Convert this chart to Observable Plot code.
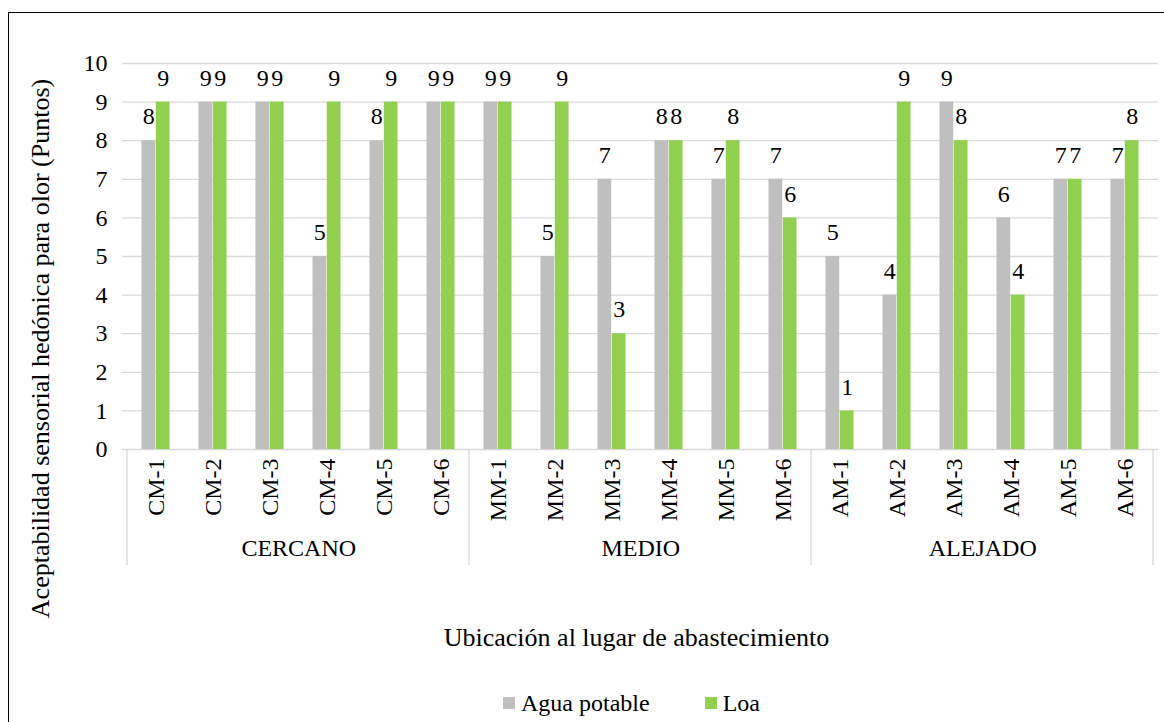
<!DOCTYPE html>
<html>
<head>
<meta charset="utf-8">
<script src="https://cdn.jsdelivr.net/npm/d3@7"></script>
<script src="https://cdn.jsdelivr.net/npm/@observablehq/plot@0.6"></script>
<style>
  html, body { margin: 0; padding: 0; background: #fff; }
  body { width: 1164px; height: 722px; position: relative; overflow: hidden; font-family: "Liberation Serif", "Times New Roman", serif; }
  #frame { position: absolute; left: 8px; top: 12px; width: 1170px; height: 730px; border: 1px solid #000; box-sizing: border-box; pointer-events: none; }
  #chart { position: absolute; left: 0; top: 0; }
  #legend { position: absolute; left: 503px; top: 689px; height: 28px; display: flex; align-items: center; font-size: 24px; color: #000; }
  .item { display: flex; align-items: center; }
  .sw { width: 12px; height: 12px; display: inline-block; margin-right: 6px; }
</style>
</head>
<body>
<div id="chart"></div>
<div id="legend"></div>
<div id="frame"></div>
<script>
const categorias = ["CM-1","CM-2","CM-3","CM-4","CM-5","CM-6","MM-1","MM-2","MM-3","MM-4","MM-5","MM-6","AM-1","AM-2","AM-3","AM-4","AM-5","AM-6"];
const grupos = ["CERCANO","MEDIO","ALEJADO"];
const grupoInicio = ["CM-1","MM-1","AM-1"];
const grupoFin = ["CM-6","MM-6","AM-6"];
const grupoMedio = ["CM-3","MM-3","AM-3"];
const aguaPotable = [8,9,9,5,8,9,9,5,7,8,7,7,5,4,9,6,7,7];
const loa = [9,9,9,9,9,9,9,9,3,8,8,6,1,9,8,4,7,8];
const yTicks = [0,1,2,3,4,5,6,7,8,9,10];
const series = ["Agua potable","Loa"];
const colores = ["#BFBFBF","#92D050"];
const tituloX = "Ubicación al lugar de abastecimiento";
const tituloY = "Aceptabilidad sensorial hedónica para olor (Puntos)";

const datosAgua = categorias.map((c, i) => ({categoria: c, valor: aguaPotable[i]}));
const datosLoa = categorias.map((c, i) => ({categoria: c, valor: loa[i]}));

const W = 1164, H = 680;
const mL = 122, mR = 6, mT = 63, mB = 231;
const bw = (W - mL - mR) / categorias.length;
const barW = 14.3;
const font = "'Liberation Serif', 'Times New Roman', serif";

const plot = Plot.plot({
  width: W, height: H,
  marginLeft: mL, marginRight: mR, marginTop: mT, marginBottom: mB,
  x: {domain: categorias, padding: 0, axis: null},
  y: {domain: [0, 10], axis: null},
  style: {fontFamily: font, fontSize: "24px", color: "#000", background: "transparent"},
  marks: [
    Plot.ruleY(yTicks, {y: d => d, stroke: "#D9D9D9", strokeWidth: 1.3}),
    Plot.barY(datosAgua, {x: "categoria", y: "valor", fill: colores[0], insetLeft: bw/2 - barW, insetRight: bw/2}),
    Plot.barY(datosLoa, {x: "categoria", y: "valor", fill: colores[1], insetLeft: bw/2, insetRight: bw/2 - barW}),
    Plot.text(datosAgua, {x: "categoria", y: "valor", text: d => String(d.valor), dx: -barW/2, dy: -24, fontSize: 24, fill: "#000"}),
    Plot.text(datosLoa, {x: "categoria", y: "valor", text: d => String(d.valor), dx: barW/2, dy: -24, fontSize: 24, fill: "#000"}),
    Plot.axisY({ticks: yTicks, tickSize: 0, tickPadding: 15, label: null, fontSize: 24, tickFormat: d => String(d)}),
    Plot.axisX({tickRotate: -90, tickSize: 0, tickPadding: 9, label: null, fontSize: 24}),
    Plot.text(grupos, {x: (d, i) => grupoMedio[i], text: d => d, frameAnchor: "bottom", dx: bw/2, dy: 106, fontSize: 24, fill: "#000"}),
    Plot.text([tituloX], {text: d => d, frameAnchor: "bottom", dx: -4, dy: 196, fontSize: 26, fill: "#000"}),
    Plot.text([tituloY], {text: d => d, frameAnchor: "left", textAnchor: "middle", dx: -82, dy: 92, rotate: -90, fontSize: 26, fill: "#000"})
  ]
});

// group separator lines below the axis, positioned with the plot's x scale
const xs = plot.scale("x");
const svg = d3.select(plot);
const y0 = plot.scale("y").apply(0);
const bounds = [xs.apply(grupoInicio[0])].concat(grupoFin.map(c => xs.apply(c) + xs.bandwidth));
svg.append("g").selectAll("line").data(bounds).join("line")
  .attr("x1", d => d).attr("x2", d => d)
  .attr("y1", y0).attr("y2", y0 + 116)
  .attr("stroke", "#D9D9D9").attr("stroke-width", 1.3);

document.getElementById("chart").appendChild(plot);

const legend = d3.select("#legend");
series.forEach((s, i) => {
  const it = legend.append("div").attr("class", "item").style("margin-right", i === 0 ? "55px" : "0");
  it.append("span").attr("class", "sw").style("background", colores[i]);
  it.append("span").text(s);
});
</script>
</body>
</html>
